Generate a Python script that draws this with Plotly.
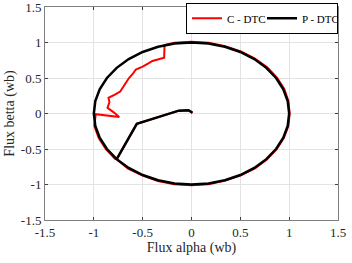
import plotly.graph_objects as go

# Tick labels
tick_vals = [-1.5, -1.0, -0.5, 0.0, 0.5, 1.0, 1.5]
tick_text = ["-1.5", "-1", "-0.5", "0", "0.5", "1", "1.5"]

# P - DTC trajectory (flux alpha, flux betta)
p_alpha = [0.01, -0.03, -0.13, -0.56, -0.766,
           -0.643, -0.500, -0.342, -0.174, 0.000, 0.174, 0.342, 0.500, 0.643, 0.766, 0.866, 0.940, 0.985,
           1.000, 0.985, 0.940, 0.866, 0.766, 0.643, 0.500, 0.342, 0.174, 0.000, -0.174, -0.342, -0.500,
           -0.643, -0.766, -0.866, -0.940, -0.985, -1.000, -0.985, -0.940, -0.866, -0.766]
p_betta = [0.01, 0.045, 0.04, -0.145, -0.643,
           -0.766, -0.866, -0.940, -0.985, -1.000, -0.985, -0.940, -0.866, -0.766, -0.643, -0.500, -0.342, -0.174,
           0.000, 0.174, 0.342, 0.500, 0.643, 0.766, 0.866, 0.940, 0.985, 1.000, 0.985, 0.940, 0.866,
           0.766, 0.643, 0.500, 0.342, 0.174, 0.000, -0.174, -0.342, -0.500, -0.643]

# C - DTC trajectory
c_alpha = [0.01, -0.03, -0.13, -0.56, -0.766,
           -0.650, -0.505, -0.345, -0.176, 0.000, 0.176, 0.345, 0.505, 0.650, 0.772, 0.872, 0.945, 0.992,
           1.005, 0.992, 0.950, 0.875, 0.775, 0.650, 0.505, 0.345, 0.176, 0.000, -0.176, -0.276,
           -0.28, -0.33, -0.40, -0.45, -0.50, -0.57, -0.60, -0.64, -0.68, -0.73, -0.78, -0.85, -0.84,
           -0.86, -0.80, -0.74, -0.98,
           -0.995, -0.950, -0.875, -0.775]
c_betta = [0.01, 0.045, 0.04, -0.145, -0.643,
           -0.775, -0.870, -0.950, -0.995, -1.010, -0.995, -0.945, -0.870, -0.772, -0.648, -0.503, -0.345, -0.175,
           0.000, 0.176, 0.345, 0.505, 0.650, 0.772, 0.875, 0.948, 0.995, 1.010, 0.995, 0.965,
           0.785, 0.77, 0.74, 0.70, 0.66, 0.62, 0.56, 0.50, 0.42, 0.31, 0.27, 0.22, 0.16,
           0.08, 0.02, -0.05, -0.01,
           -0.176, -0.345, -0.505, -0.648]

SERIF = "Liberation Serif"

fig = go.Figure()
fig.add_trace(go.Scatter(x=c_alpha, y=c_betta, mode="lines", name="C - DTC",
                         line=dict(color="#ff0000", width=2)))
fig.add_trace(go.Scatter(x=p_alpha, y=p_betta, mode="lines", name="P - DTC",
                         line=dict(color="#000000", width=2.5)))

axis_common = dict(
    range=[-1.5, 1.5], tickvals=tick_vals, ticktext=tick_text, automargin=False,
    ticklabeloverflow="allow",
    showgrid=True, gridcolor="#e3e3e3", gridwidth=1,
    zeroline=False, showline=True, linecolor="#808080", linewidth=1,
    mirror="ticks", ticks="inside", ticklen=3, tickcolor="#404040",
    tickfont=dict(family=SERIF, size=13, color="#262626"),
)

fig.update_layout(
    width=352, height=263,
    margin=dict(l=45, r=14, t=7, b=43, autoexpand=False),
    paper_bgcolor="white", plot_bgcolor="white",
    font=dict(family=SERIF, color="#262626"),
    xaxis=dict(**axis_common,
               title=dict(text="Flux alpha (wb)", font=dict(size=14, family=SERIF), standoff=2)),
    yaxis=dict(**axis_common,
               title=dict(text="Flux betta (wb)", font=dict(size=14, family=SERIF), standoff=2)),
    showlegend=True,
    legend=dict(orientation="h", x=1.0, xanchor="right", y=1.02, yanchor="top",
                bgcolor="white", bordercolor="#000000", borderwidth=1,
                font=dict(family=SERIF, size=11, color="#000000"),
                itemwidth=30, tracegroupgap=0,
                entrywidth=30, entrywidthmode="pixels"),
)

fig.write_html("out.html", config={"displayModeBar": False},
               post_script="document.body.style.margin='0';")
